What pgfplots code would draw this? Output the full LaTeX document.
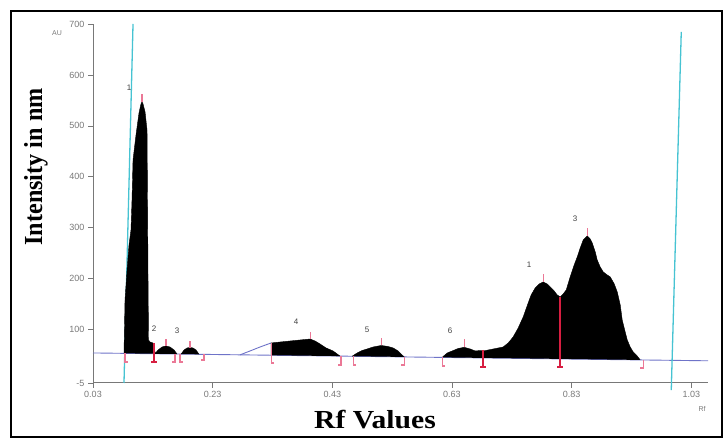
\documentclass[border=0pt]{standalone}
\usepackage{fontspec}
\setmainfont{Liberation Serif}
\newfontfamily\tickfont{Liberation Sans}
\usepackage{pgfplots}
\pgfplotsset{compat=1.18}

\definecolor{scancyan}{RGB}{70,195,210}
\definecolor{baseblue}{RGB}{110,115,200}
\definecolor{markpink}{RGB}{235,120,150}
\definecolor{markred}{RGB}{215,30,65}
\definecolor{axgray}{RGB}{120,120,120}

\begin{document}
\begin{tikzpicture}
\path[use as bounding box] (0pt,0pt) rectangle (725pt,438pt);
\draw[line width=1.6pt] (11pt,1pt) rectangle (722pt,427pt);

\begin{axis}[
    at={(93pt,55pt)}, anchor=south west,
    scale only axis, width=615pt, height=359pt,
    xmin=0.03, xmax=1.058,
    ymin=-5, ymax=700,
    axis x line*=bottom, axis y line*=left,
    axis line style={axgray, line width=1pt},
    xtick={0.03,0.23,0.43,0.63,0.83,1.03},
    xticklabels={0.03,0.23,0.43,0.63,0.83,1.03},
    ytick={-5,100,200,300,400,500,600,700},
    yticklabels={-5,100,200,300,400,500,600,700},
    tick align=outside, major tick length=5pt,
    tick style={axgray, line width=0.6pt},
    ticklabel style={font=\tickfont\fontsize{9}{10}\selectfont, text=axgray},
    /pgf/number format/assume math mode=true,
    unbounded coords=jump,
    clip=false,
]

% baseline of the scan (slightly tilted)
\addplot[baseblue, line width=0.9pt] coordinates {(0.03,54) (1.058,38.6)};
% blue rise in front of peak 4
\addplot[baseblue, line width=0.9pt, smooth] coordinates {
    (0.2758,50.3) (0.2925,57.9) (0.3093,65.7) (0.3277,73.6)};

% track borders
\addplot[scancyan, line width=1.3pt] coordinates {(0.0969,700) (0.0818,-5)};
\addplot[scancyan, line width=1.3pt] coordinates {(1.0133,684.6) (0.9966,-18.8)};

% main spike
\addplot[fill=black, draw=black] coordinates {
    (0.0818,53.2) (0.0835,158.1) (0.0869,217.0) (0.0902,266.1) (0.0935,295.6)
    (0.0952,354.5) (0.0969,433.1) (0.1019,482.2) (0.1069,525.5) (0.1102,543.1)
    (0.1119,547.1) (0.1136,543.1) (0.1170,527.4) (0.1203,492.1) (0.1211,354.5)
    (0.1220,197.4) (0.1228,79.5) (0.1253,75.5) (0.1303,73.6) (0.1320,59.8)
    (0.1354,52.4)};

% peak 2
\addplot[fill=black, draw=black] coordinates {
    (0.1337,52.4) (0.1387,59.8) (0.1454,65.7) (0.1521,67.7) (0.1588,65.7)
    (0.1655,59.8) (0.1705,51.9)};

% peak 3
\addplot[fill=black, draw=black] coordinates {
    (0.1772,51.9) (0.1822,59.8) (0.1872,63.8) (0.1922,64.7) (0.1972,63.8)
    (0.2022,59.8) (0.2073,51.3)};

% peak 4
\addplot[fill=black, draw=black] coordinates {
    (0.3277,49.5) (0.3277,73.6) (0.3428,75.5) (0.3595,77.5) (0.3762,79.5)
    (0.3929,81.4) (0.4012,77.5) (0.4096,71.6) (0.4196,63.8) (0.4313,57.9)
    (0.4430,47.8)};

% peak 5
\addplot[fill=black, draw=black] coordinates {
    (0.4631,47.5) (0.4715,53.9) (0.4798,58.8) (0.4882,61.8) (0.4982,65.7)
    (0.5116,68.7) (0.5233,66.7) (0.5317,63.8) (0.5400,57.9) (0.5501,46.2)};

% peak 6
\addplot[fill=black, draw=black] coordinates {
    (0.6136,45.3) (0.6220,53.9) (0.6304,57.9) (0.6404,62.8) (0.6504,65.1)
    (0.6605,61.8) (0.6688,57.9) (0.6772,58.8) (0.6822,57.9) (0.6822,44.3)};

% peaks 1 and 3 (overlapping group)
\addplot[fill=black, draw=black] coordinates {
    (0.6822,44.3) (0.6822,57.9) (0.6989,61.8) (0.7156,65.7) (0.7240,73.6)
    (0.7323,85.4) (0.7407,103.1) (0.7491,124.7) (0.7574,152.2) (0.7624,167.9)
    (0.7691,181.6) (0.7758,189.5) (0.7825,193.4) (0.7892,189.5) (0.7942,183.6)
    (0.8009,175.7) (0.8059,167.9) (0.8109,164.0) (0.8159,169.9) (0.8210,177.7)
    (0.8276,203.3) (0.8343,226.8) (0.8394,242.5) (0.8444,260.2) (0.8494,275.9)
    (0.8561,283.8) (0.8611,277.9) (0.8645,270.0) (0.8695,252.4) (0.8728,236.6)
    (0.8778,222.9) (0.8829,213.1) (0.8895,207.2) (0.8946,203.3) (0.9013,189.5)
    (0.9063,173.8) (0.9113,148.2) (0.9146,118.8) (0.9196,95.2) (0.9230,79.5)
    (0.9280,65.7) (0.9330,55.9) (0.9397,48.0) (0.9447,40.3)};

% peak-top and boundary marks (pink)
\addplot[markpink, line width=1.2pt] coordinates {
    (0.1119,547) (0.1119,562) (0.1119,nan)
    (0.1521,67.7) (0.1521,81.4) (0.1521,nan)
    (0.1922,64.7) (0.1922,77.5) (0.1922,nan)
    (0.3929,81.4) (0.3929,95.2) (0.3929,nan)
    (0.5116,68.7) (0.5116,83.4) (0.5116,nan)
    (0.6504,65.1) (0.6504,81.4) (0.6504,nan)
    (0.7825,193.4) (0.7825,209) (0.7825,nan)
    (0.8561,283.8) (0.8561,299.5) (0.8561,nan)
    (0.0835,53.5) (0.0835,36.3) (0.0885,36.3) (0.0885,nan)
    (0.1670,52) (0.1670,36.3) (0.1620,36.3) (0.1620,nan)
    (0.1755,52) (0.1755,36.3) (0.1805,36.3) (0.1805,nan)
    (0.2156,51.3) (0.2156,40.2) (0.2106,40.2) (0.2106,nan)
    (0.3277,73.6) (0.3277,34.3) (0.3327,34.3) (0.3327,nan)
    (0.4447,48) (0.4447,30.4) (0.4397,30.4) (0.4397,nan)
    (0.4648,47.5) (0.4648,30.4) (0.4698,30.4) (0.4698,nan)
    (0.5501,46.2) (0.5501,30.4) (0.5451,30.4) (0.5451,nan)
    (0.6136,45.3) (0.6136,28.4) (0.6186,28.4) (0.6186,nan)
    (0.9497,40.2) (0.9497,24.5) (0.9447,24.5)};

% separators between overlapping peaks (red)
\addplot[markred, line width=2pt] coordinates {
    (0.1320,73.6) (0.1320,36.3) (0.1320,nan)
    (0.6822,59.8) (0.6822,26.4) (0.6822,nan)
    (0.8109,164.0) (0.8109,26.4)};
\addplot[markred, line width=1.2pt] coordinates {
    (0.1270,36.3) (0.1370,36.3) (0.1370,nan)
    (0.6772,26.4) (0.6872,26.4) (0.6872,nan)
    (0.8059,26.4) (0.8159,26.4)};

% peak numbers
\begin{scope}[every node/.style={font=\tickfont\fontsize{8}{9}\selectfont, text=black!75}]
\node at (axis cs:0.0902,575) {1};
\node at (axis cs:0.1320,101) {2};
\node at (axis cs:0.1705,97) {3};
\node at (axis cs:0.3695,115) {4};
\node at (axis cs:0.4882,99) {5};
\node at (axis cs:0.6270,97) {6};
\node at (axis cs:0.7591,227) {1};
\node at (axis cs:0.8360,317) {3};
\end{scope}
\end{axis}

\node[font=\tickfont\fontsize{7}{8}\selectfont, text=axgray] at (57pt,405pt) {AU};
\node[font=\tickfont\fontsize{7}{8}\selectfont, text=axgray] at (702pt,29pt) {Rf};
\node[rotate=90, font=\bfseries\fontsize{26}{28}\selectfont] at (36pt,271pt)
    {\scalebox{0.93}[1]{Intensity in nm}};
\node[font=\bfseries\fontsize{26}{28}\selectfont] at (375pt,18pt)
    {\scalebox{1.14}[1]{Rf Values}};
\end{tikzpicture}
\end{document}
